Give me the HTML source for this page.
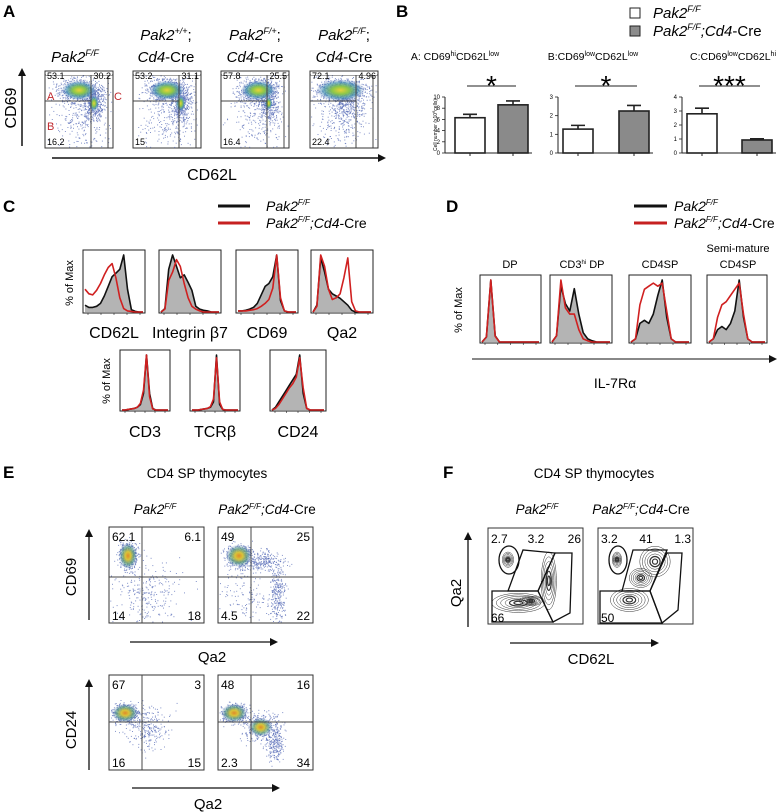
<!DOCTYPE html>
<html><head><meta charset="utf-8"><style>
html,body{margin:0;padding:0;background:#fff;}
svg{display:block;font-family:"Liberation Sans",sans-serif;}
.pl{font-weight:bold;font-size:17px;}
.it{font-style:italic;}
</style></head><body>
<svg id="fig" width="781" height="812" viewBox="0 0 781 812" xmlns="http://www.w3.org/2000/svg">
<defs>
<marker id="ah" markerWidth="8" markerHeight="8" refX="6" refY="4" orient="auto" markerUnits="userSpaceOnUse"><path d="M0,0 L8,4 L0,8 z" fill="#111"/></marker>
<radialGradient id="dens"><stop offset="0" stop-color="#e8d23a"/><stop offset="0.35" stop-color="#8cc64a"/><stop offset="0.7" stop-color="#3f8fb0" stop-opacity="0.7"/><stop offset="1" stop-color="#5a7ac0" stop-opacity="0"/></radialGradient>
<radialGradient id="densE"><stop offset="0" stop-color="#e08a2a"/><stop offset="0.3" stop-color="#d8c43a"/><stop offset="0.65" stop-color="#5aa080" stop-opacity="0.7"/><stop offset="1" stop-color="#5a7ac0" stop-opacity="0"/></radialGradient>
<clipPath id="fclip0"><rect x="488" y="528" width="95" height="96"/></clipPath>
<clipPath id="fclip1"><rect x="598" y="528" width="95" height="96"/></clipPath>
</defs>

<!-- Panel A -->
<g>
<text class="pl" x="3" y="17">A</text>
<text x="75" y="62" font-size="15" text-anchor="middle" class="it">Pak2<tspan font-size="9" dy="-6">F/F</tspan></text>
<text x="166" y="40" font-size="15" text-anchor="middle"><tspan class="it">Pak2</tspan><tspan font-size="9" dy="-6" class="it">+/+</tspan><tspan dy="6">;</tspan></text>
<text x="166" y="62" font-size="15" text-anchor="middle"><tspan class="it">Cd4</tspan>-Cre</text>
<text x="255" y="40" font-size="15" text-anchor="middle"><tspan class="it">Pak2</tspan><tspan font-size="9" dy="-6" class="it">F/+</tspan><tspan dy="6">;</tspan></text>
<text x="255" y="62" font-size="15" text-anchor="middle"><tspan class="it">Cd4</tspan>-Cre</text>
<text x="344" y="40" font-size="15" text-anchor="middle"><tspan class="it">Pak2</tspan><tspan font-size="9" dy="-6" class="it">F/F</tspan><tspan dy="6">;</tspan></text>
<text x="344" y="62" font-size="15" text-anchor="middle"><tspan class="it">Cd4</tspan>-Cre</text>
<line x1="22" y1="146" x2="22" y2="70" stroke="#111" stroke-width="1.5" marker-end="url(#ah)"/>
<text transform="translate(16,108) rotate(-90)" font-size="16" text-anchor="middle">CD69</text>
<line x1="52" y1="158" x2="384" y2="158" stroke="#111" stroke-width="1.5" marker-end="url(#ah)"/>
<text x="212" y="180" font-size="16" text-anchor="middle">CD62L</text>
<g id="aPlots"></g>
<text x="47" y="100" font-size="11" fill="#c0282d">A</text>
<text x="47" y="130" font-size="11" fill="#c0282d">B</text>
<text x="114" y="100" font-size="11" fill="#c0282d">C</text>
</g>

<!-- Panel B -->
<g>
<text class="pl" x="396" y="17">B</text>
<rect x="630" y="8" width="10" height="10" fill="#fff" stroke="#222"/>
<text x="653" y="18" font-size="15" class="it">Pak2<tspan font-size="9" dy="-6">F/F</tspan></text>
<rect x="630" y="26" width="10" height="10" fill="#8c8c8c" stroke="#222"/>
<text x="653" y="36" font-size="15"><tspan class="it">Pak2</tspan><tspan font-size="9" dy="-6" class="it">F/F</tspan><tspan dy="6" class="it">;Cd4</tspan>-Cre</text>
<text x="455" y="60" font-size="10.5" text-anchor="middle">A: CD69<tspan font-size="7" dy="-4">hi</tspan><tspan dy="4">CD62L</tspan><tspan font-size="7" dy="-4">low</tspan></text>
<text x="593" y="60" font-size="10.5" text-anchor="middle">B:CD69<tspan font-size="7" dy="-4">low</tspan><tspan dy="4">CD62L</tspan><tspan font-size="7" dy="-4">low</tspan></text>
<text x="733" y="60" font-size="10.5" text-anchor="middle">C:CD69<tspan font-size="7" dy="-4">low</tspan><tspan dy="4">CD62L</tspan><tspan font-size="7" dy="-4">hi</tspan></text>
<text transform="translate(437,125) rotate(-90)" font-size="5" text-anchor="middle">Cell number (x10<tspan font-size="4" dy="-2">6</tspan><tspan dy="2">cells)</tspan></text>
<g id="bCharts"></g>
</g>

<!-- Panel C -->
<g>
<text class="pl" x="3" y="212">C</text>
<line x1="218" y1="206" x2="250" y2="206" stroke="#111" stroke-width="3"/>
<text x="266" y="211" font-size="14" class="it">Pak2<tspan font-size="8" dy="-6">F/F</tspan></text>
<line x1="218" y1="223" x2="250" y2="223" stroke="#c62020" stroke-width="3"/>
<text x="266" y="228" font-size="14"><tspan class="it">Pak2</tspan><tspan font-size="8" dy="-6" class="it">F/F</tspan><tspan dy="6" class="it">;Cd4</tspan>-Cre</text>
<text transform="translate(73,283) rotate(-90)" font-size="11" text-anchor="middle">% of Max</text>
<text transform="translate(110,381) rotate(-90)" font-size="11" text-anchor="middle">% of Max</text>
<g id="cHists"></g>
</g>

<!-- Panel D -->
<g>
<text class="pl" x="446" y="212">D</text>
<line x1="634" y1="206" x2="667" y2="206" stroke="#111" stroke-width="3"/>
<text x="674" y="211" font-size="14" class="it">Pak2<tspan font-size="8" dy="-6">F/F</tspan></text>
<line x1="634" y1="223" x2="667" y2="223" stroke="#c62020" stroke-width="3"/>
<text x="674" y="228" font-size="14"><tspan class="it">Pak2</tspan><tspan font-size="8" dy="-6" class="it">F/F</tspan><tspan dy="6" class="it">;Cd4</tspan>-Cre</text>
<text x="510" y="268" font-size="11" text-anchor="middle">DP</text>
<text x="582" y="268" font-size="11" text-anchor="middle">CD3<tspan font-size="6" dy="-4">hi</tspan><tspan dy="4"> DP</tspan></text>
<text x="660" y="268" font-size="11" text-anchor="middle">CD4SP</text>
<text x="738" y="252" font-size="11" text-anchor="middle">Semi-mature</text>
<text x="738" y="268" font-size="11" text-anchor="middle">CD4SP</text>
<text transform="translate(462,310) rotate(-90)" font-size="11" text-anchor="middle">% of Max</text>
<line x1="472" y1="359" x2="775" y2="359" stroke="#111" stroke-width="1" marker-end="url(#ah)"/>
<text x="615" y="388" font-size="14" text-anchor="middle">IL-7Rα</text>
<g id="dHists"></g>
</g>

<!-- Panel E -->
<g>
<text class="pl" x="3" y="478">E</text>
<text x="207" y="478" font-size="13.5" text-anchor="middle">CD4 SP thymocytes</text>
<text x="155" y="514" font-size="13.5" text-anchor="middle" class="it">Pak2<tspan font-size="8" dy="-5">F/F</tspan></text>
<text x="267" y="514" font-size="13.5" text-anchor="middle"><tspan class="it">Pak2</tspan><tspan font-size="8" dy="-5" class="it">F/F</tspan><tspan dy="5" class="it">;Cd4</tspan>-Cre</text>
<line x1="89" y1="620" x2="89" y2="531" stroke="#111" stroke-width="1.3" marker-end="url(#ah)"/>
<text transform="translate(76,577) rotate(-90)" font-size="15" text-anchor="middle">CD69</text>
<line x1="130" y1="642" x2="276" y2="642" stroke="#111" stroke-width="1.3" marker-end="url(#ah)"/>
<text x="212" y="662" font-size="15" text-anchor="middle">Qa2</text>
<line x1="89" y1="770" x2="89" y2="681" stroke="#111" stroke-width="1.3" marker-end="url(#ah)"/>
<text transform="translate(76,730) rotate(-90)" font-size="15" text-anchor="middle">CD24</text>
<line x1="132" y1="788" x2="278" y2="788" stroke="#111" stroke-width="1.3" marker-end="url(#ah)"/>
<text x="208" y="809" font-size="15" text-anchor="middle">Qa2</text>
<g id="ePlots"></g>
</g>

<!-- Panel F -->
<g>
<text class="pl" x="443" y="478">F</text>
<text x="594" y="478" font-size="13.5" text-anchor="middle">CD4 SP thymocytes</text>
<text x="537" y="514" font-size="13.5" text-anchor="middle" class="it">Pak2<tspan font-size="8" dy="-5">F/F</tspan></text>
<text x="641" y="514" font-size="13.5" text-anchor="middle"><tspan class="it">Pak2</tspan><tspan font-size="8" dy="-5" class="it">F/F</tspan><tspan dy="5" class="it">;Cd4</tspan>-Cre</text>
<line x1="468" y1="627" x2="468" y2="534" stroke="#111" stroke-width="1.3" marker-end="url(#ah)"/>
<text transform="translate(461,593) rotate(-90)" font-size="15" text-anchor="middle">Qa2</text>
<line x1="510" y1="643" x2="657" y2="643" stroke="#111" stroke-width="1.3" marker-end="url(#ah)"/>
<text x="591" y="664" font-size="15" text-anchor="middle">CD62L</text>
<g id="fPlots"></g>
</g>
</svg>
<script>
// ---------- Panel B data ----------
const bGroups = ['Pak2F/F', 'Pak2F/F;Cd4-Cre'];
const bMeansA = [6.3, 8.6];
const bErrA = [0.6, 0.7];
const bMeansB = [1.28, 2.25];
const bErrB = [0.2, 0.3];
const bMeansC = [2.8, 0.93];
const bErrC = [0.4, 0.08];
const bTicksA = [0, 2, 4, 6, 8, 10];
const bTicksB = [0, 1, 2, 3];
const bTicksC = [0, 1, 2, 3, 4];
const bStars = ['*', '*', '***'];

// ---------- Panel C / D histogram data (% of max per bin) ----------
const cLabels = ['CD62L', 'Integrin β7', 'CD69', 'Qa2', 'CD3', 'TCRβ', 'CD24'];
const hCD62Lctl = [12, 8, 8, 10, 15, 28, 45, 62, 68, 75, 100, 40, 4, 1, 0, 0];
const hCD62Lko = [40, 32, 30, 38, 50, 65, 78, 85, 60, 25, 6, 2, 1, 0, 0, 0];
const hITGctl = [0, 6, 75, 100, 80, 60, 65, 52, 38, 10, 5, 3, 2, 0, 0, 0];
const hITGko = [0, 5, 55, 70, 92, 80, 50, 25, 10, 5, 2, 0, 0, 0, 0, 0];
const hCD69ctl = [2, 2, 3, 5, 8, 15, 30, 45, 50, 62, 100, 20, 2, 0, 0, 0];
const hCD69ko = [2, 2, 2, 3, 4, 6, 10, 15, 22, 42, 100, 25, 2, 0, 0, 0];
const hQa2ctl = [0, 12, 95, 70, 40, 32, 28, 24, 18, 12, 3, 0, 0, 0, 0, 0];
const hQa2ko = [0, 10, 100, 80, 40, 22, 25, 32, 60, 95, 18, 2, 0, 0, 0, 0];
const hCD3ctl = [0, 0, 1, 2, 3, 5, 10, 30, 100, 30, 3, 0, 0, 0, 0, 0];
const hCD3ko = [0, 0, 1, 2, 3, 5, 12, 36, 100, 24, 2, 0, 0, 0, 0, 0];
const hTCRctl = [0, 0, 0, 1, 2, 3, 5, 15, 100, 10, 1, 0, 0, 0, 0, 0];
const hTCRko = [0, 0, 0, 1, 2, 3, 6, 20, 95, 15, 1, 0, 0, 0, 0, 0];
const hCD24ctl = [0, 5, 15, 25, 35, 45, 55, 65, 100, 30, 3, 0, 0, 0, 0, 0];
const hCD24ko = [0, 3, 10, 20, 30, 40, 48, 60, 95, 40, 3, 0, 0, 0, 0, 0];
const dLabels = ['DP', 'CD3hi DP', 'CD4SP', 'Semi-mature CD4SP'];
const hDPctl = [0, 8, 100, 10, 0, 0, 0, 0, 0, 0, 0, 0, 0, 0];
const hDPko = [0, 8, 100, 9, 0, 0, 0, 0, 0, 0, 0, 0, 0, 0];
const hCD3hiCtl = [0, 10, 90, 62, 50, 86, 45, 15, 5, 2, 0, 0, 0, 0];
const hCD3hiKo = [0, 10, 100, 55, 45, 45, 20, 5, 2, 0, 0, 0, 0, 0];
const hSPctl = [0, 5, 30, 35, 30, 45, 75, 100, 40, 5, 0, 0, 0, 0];
const hSPko = [0, 5, 60, 85, 90, 95, 90, 95, 50, 5, 0, 0, 0, 0];
const hSemiCtl = [0, 5, 20, 25, 20, 30, 50, 100, 40, 5, 0, 0, 0, 0];
const hSemiKo = [0, 5, 40, 60, 65, 75, 85, 95, 45, 5, 0, 0, 0, 0];

// ---------- Quadrant percentages ----------
const aQuadTL = ['53.1', '53.2', '57.8', '72.1'];
const aQuadTR = ['30.2', '31.1', '25.5', '4.96'];
const aQuadBL = ['16.2', '15', '16.4', '22.4'];
const eTopQuads = [['62.1', '6.1', '14', '18'], ['49', '25', '4.5', '22']];
const eBotQuads = [['67', '3', '16', '15'], ['48', '16', '2.3', '34']];
const fGates = [['2.7', '3.2', '26', '66'], ['3.2', '41', '1.3', '50']];

const NS = 'http://www.w3.org/2000/svg';
function mk(tag, attrs, parent) {
  const e = document.createElementNS(NS, tag);
  for (const k in attrs) e.setAttribute(k, attrs[k]);
  parent.appendChild(e);
  return e;
}
let seed = 7;
function rnd() { seed = (seed * 16807) % 2147483647; return seed / 2147483647; }
function gauss() { return (rnd() + rnd() + rnd() + rnd() - 2) * 1.7; }

// ---------- Panel B ----------
const bG = document.getElementById('bCharts');
function barChart(axX, means, errs, ticks, star, barXs) {
  const top = 97, bottom = 153, maxV = ticks[ticks.length - 1];
  const y = v => bottom - (v / maxV) * (bottom - top);
  const ax = mk('line', {x1: axX, y1: top, x2: axX, y2: bottom, stroke: '#222', 'stroke-width': 1}, bG);
  
  
  const bx = mk('line', {x1: axX, y1: bottom, x2: barXs[1] + 34, y2: bottom, stroke: '#222', 'stroke-width': 1}, bG);
  
  
  ticks.forEach(t => {
    const tk = mk('line', {x1: axX - 3, y1: y(t), x2: axX, y2: y(t), stroke: '#222', 'stroke-width': 0.8}, bG);
    
    
    const tl = mk('text', {x: axX - 5, y: y(t) + 2, 'font-size': 6, 'text-anchor': 'end'}, bG);
    tl.textContent = t;
    
    
  });
  means.forEach((m, i) => {
    const w = 30;
    const r = mk('rect', {x: barXs[i], y: y(m), width: w, height: bottom - y(m), fill: i ? '#8a8a8a' : '#fff', stroke: '#222', 'stroke-width': 1.6}, bG);
    
    
    const cx = barXs[i] + w / 2;
    const el = mk('path', {d: `M${cx},${y(m)}V${y(m + errs[i])}M${cx - 7},${y(m + errs[i])}H${cx + 7}`, stroke: '#222', 'stroke-width': 1.6, fill: 'none'}, bG);
    
    
    const xt = mk('line', {x1: cx, y1: bottom, x2: cx, y2: bottom + 3, stroke: '#222'}, bG);
    
    
  });
  const c1 = barXs[0] + 15, c2 = barXs[1] + 15;
  const sl = mk('line', {x1: c1 - 3, y1: 86, x2: c2 + 3, y2: 86, stroke: '#222', 'stroke-width': 1}, bG);
  
  
  const st = mk('text', {x: (c1 + c2) / 2, y: 95, 'font-size': 28, 'text-anchor': 'middle'}, bG);
  st.textContent = star;
  
  
}
barChart(445, bMeansA, bErrA, bTicksA, bStars[0], [455, 498]);
barChart(558, bMeansB, bErrB, bTicksB, bStars[1], [563, 619]);
barChart(682, bMeansC, bErrC, bTicksC, bStars[2], [687, 742]);

// ---------- Histograms ----------
function hist(parent, x, y, w, h, ctl, ko, label, labelY, fs) {
  const fr = mk('rect', {x: x, y: y, width: w, height: h, fill: '#fff', stroke: '#222', 'stroke-width': 1}, parent);
  
  
  const xs = i => x + 2 + i * (w - 4) / (ctl.length - 1);
  const ys = v => y + h - 1 - v / 100 * (h - 6);
  let d = '';
  ctl.forEach((v, i) => { d += (i ? 'L' : 'M') + xs(i).toFixed(1) + ',' + ys(v).toFixed(1); });
  const fill = mk('path', {d: d + `L${xs(ctl.length - 1)},${y + h - 1}L${xs(0)},${y + h - 1}Z`, fill: '#b4b4b4', stroke: 'none'}, parent);
  
  
  const ln = mk('path', {d: d, fill: 'none', stroke: '#111', 'stroke-width': 1.6, 'stroke-linejoin': 'round'}, parent);
  
  
  let d2 = '';
  ko.forEach((v, i) => { d2 += (i ? 'L' : 'M') + xs(i).toFixed(1) + ',' + ys(v).toFixed(1); });
  const rl = mk('path', {d: d2, fill: 'none', stroke: '#d02020', 'stroke-width': 1.6, 'stroke-linejoin': 'round'}, parent);
  
  
  for (let k = 0; k < 5; k++) {
    const t = mk('line', {x1: x + 5 + k * (w - 10) / 4, y1: y + h, x2: x + 5 + k * (w - 10) / 4, y2: y + h + 2, stroke: '#222', 'stroke-width': 0.6}, parent);
    
    
  }
  if (label) {
    const tx = mk('text', {x: x + w / 2, y: labelY, 'font-size': fs, 'text-anchor': 'middle'}, parent);
    tx.textContent = label;
    
    
  }
}
const cG = document.getElementById('cHists');
hist(cG, 83, 250, 62, 63, hCD62Lctl, hCD62Lko, cLabels[0], 338, 16);
hist(cG, 159, 250, 62, 63, hITGctl, hITGko, cLabels[1], 338, 16);
hist(cG, 236, 250, 62, 63, hCD69ctl, hCD69ko, cLabels[2], 338, 16);
hist(cG, 311, 250, 62, 63, hQa2ctl, hQa2ko, cLabels[3], 338, 16);
hist(cG, 120, 350, 50, 61, hCD3ctl, hCD3ko, cLabels[4], 437, 16);
hist(cG, 190, 350, 50, 61, hTCRctl, hTCRko, cLabels[5], 437, 16);
hist(cG, 270, 350, 56, 61, hCD24ctl, hCD24ko, cLabels[6], 437, 16);
const dG = document.getElementById('dHists');
hist(dG, 480, 275, 61, 68, hDPctl, hDPko, null);
hist(dG, 550, 275, 62, 68, hCD3hiCtl, hCD3hiKo, null);
hist(dG, 629, 275, 62, 68, hSPctl, hSPko, null);
hist(dG, 707, 275, 60, 68, hSemiCtl, hSemiKo, null);

// ---------- Dot plots ----------
function dotPlot(parent, x, y, w, h, blobs, grad, nDots) {
  const fr = mk('rect', {x: x, y: y, width: w, height: h, fill: '#fff', stroke: '#333', 'stroke-width': 1}, parent);
  
  
  blobs.forEach(b => {
    for (let i = 0; i < nDots * b[4]; i++) {
      const px = x + w * (b[0] + gauss() * b[2]);
      const py = y + h * (b[1] + gauss() * b[3]);
      if (px < x + 1 || px > x + w - 1 || py < y + 1 || py > y + h - 1) continue;
      const c = mk('rect', {x: px.toFixed(1), y: py.toFixed(1), width: 1, height: 1, fill: '#5b6fb8', opacity: 0.75}, parent);
      
      
    }
  });
  blobs.forEach(b => {
    if (!b[5]) return;
    const e = mk('ellipse', {cx: x + w * b[0], cy: y + h * b[1], rx: w * b[2] * b[5] * 1.8, ry: h * b[3] * b[5] * 1.8, fill: 'url(#' + grad + ')'}, parent);
    
    
  });
}
function label(parent, x, y, txt, fs, anchor) {
  const t = mk('text', {x: x, y: y, 'font-size': fs, 'text-anchor': anchor || 'start'}, parent);
  t.textContent = txt;
  
  
}
function qline(parent, x1, y1, x2, y2) {
  const l = mk('line', {x1: x1, y1: y1, x2: x2, y2: y2, stroke: '#444', 'stroke-width': 1}, parent);
  
  
}

// Panel A
const aG = document.getElementById('aPlots');
const aXs = [45, 133, 221, 310];
const aBlobs = [
  [[0.5, 0.25, 0.16, 0.08, 1, 0.9], [0.72, 0.42, 0.08, 0.12, 0.7, 0.5], [0.55, 0.6, 0.22, 0.25, 0.6, 0]],
  [[0.5, 0.25, 0.16, 0.08, 1, 0.9], [0.7, 0.42, 0.08, 0.12, 0.7, 0.5], [0.55, 0.6, 0.22, 0.25, 0.6, 0]],
  [[0.55, 0.25, 0.16, 0.08, 1, 0.9], [0.7, 0.42, 0.08, 0.12, 0.6, 0.4], [0.55, 0.6, 0.22, 0.25, 0.5, 0]],
  [[0.45, 0.25, 0.2, 0.08, 1.3, 1], [0.55, 0.45, 0.12, 0.12, 0.5, 0], [0.45, 0.65, 0.22, 0.22, 0.5, 0]]
];
aXs.forEach((x0, i) => {
  dotPlot(aG, x0, 71, 68, 77, aBlobs[i], 'dens', 500);
  qline(aG, x0, 101, x0 + 46, 101);
  qline(aG, x0 + 46, 75, x0 + 46, 148);
  qline(aG, x0 + 63, 75, x0 + 63, 148);
  qline(aG, x0, 75, x0 + 68, 75);
  const r = mk('rect', {x: x0 + 1, y: 72, width: 66, height: 3, fill: '#fff'}, aG);
  
  
  label(aG, x0 + 2, 79, aQuadTL[i], 9);
  label(aG, x0 + 66, 79, aQuadTR[i], 9, 'end');
  label(aG, x0 + 2, 145, aQuadBL[i], 9);
});

// Panel E
const eG = document.getElementById('ePlots');
const eXs = [109, 218];
const eTopBlobs = [
  [[0.2, 0.3, 0.05, 0.07, 1, 1.1], [0.4, 0.7, 0.2, 0.18, 0.6, 0]],
  [[0.22, 0.3, 0.07, 0.06, 1, 1.1], [0.45, 0.35, 0.12, 0.05, 0.6, 0], [0.62, 0.7, 0.04, 0.15, 0.6, 0], [0.3, 0.7, 0.15, 0.15, 0.3, 0]]
];
const eBotBlobs = [
  [[0.17, 0.4, 0.07, 0.05, 1, 1.1], [0.38, 0.55, 0.12, 0.12, 0.6, 0]],
  [[0.17, 0.4, 0.07, 0.05, 1, 1.1], [0.45, 0.55, 0.1, 0.08, 0.8, 0.7], [0.6, 0.72, 0.05, 0.1, 0.5, 0]]
];
eXs.forEach((x0, i) => {
  dotPlot(eG, x0, 527, 95, 96, eTopBlobs[i], 'densE', 450);
  qline(eG, x0, 577, x0 + 95, 577);
  qline(eG, x0 + 33, 527, x0 + 33, 623);
  label(eG, x0 + 3, 541, eTopQuads[i][0], 12);
  label(eG, x0 + 92, 541, eTopQuads[i][1], 12, 'end');
  label(eG, x0 + 3, 620, eTopQuads[i][2], 12);
  label(eG, x0 + 92, 620, eTopQuads[i][3], 12, 'end');
  dotPlot(eG, x0, 675, 95, 95, eBotBlobs[i], 'densE', 450);
  qline(eG, x0, 722, x0 + 95, 722);
  qline(eG, x0 + 33, 675, x0 + 33, 770);
  label(eG, x0 + 3, 689, eBotQuads[i][0], 12);
  label(eG, x0 + 92, 689, eBotQuads[i][1], 12, 'end');
  label(eG, x0 + 3, 767, eBotQuads[i][2], 12);
  label(eG, x0 + 92, 767, eBotQuads[i][3], 12, 'end');
});

// Panel F (contour plots)
const fG = document.getElementById('fPlots');
const fXs = [488, 598];
const fContours = [
  [[0.32, 0.78, 0.28, 0.1], [0.64, 0.55, 0.08, 0.3], [0.45, 0.76, 0.12, 0.05], [0.21, 0.33, 0.06, 0.08]],
  [[0.33, 0.75, 0.2, 0.12], [0.6, 0.35, 0.16, 0.16], [0.45, 0.52, 0.12, 0.1], [0.2, 0.33, 0.05, 0.08]]
];
const fPolys = [
  ['20,63 35,22 67,25 50,63', '67,25 84,25 82,85 65,94 50,63', '4,63 50,63 65,94 4,94'],
  ['24,63 35,22 69,22 52,63', '69,25 84,25 80,82 64,95 52,63', '2,63 52,63 64,95 2,95']
];
const fEll = [[21, 32, 10, 14], [20, 32, 9, 14]];
fXs.forEach((x0, i) => {
  const fr = mk('rect', {x: x0, y: 528, width: 95, height: 96, fill: '#fff', stroke: '#333'}, fG);
  
  
  const cg = mk('g', {'clip-path': 'url(#fclip' + i + ')'}, fG);
  
  
  fContours[i].forEach(c => {
    for (let k = 1; k <= 6; k++) {
      const e = mk('ellipse', {cx: x0 + 95 * c[0], cy: 528 + 96 * c[1], rx: 95 * c[2] * k / 6, ry: 96 * c[3] * k / 6, fill: 'none', stroke: '#333', 'stroke-width': k < 3 ? 1.2 : 0.5}, cg);
      
      
    }
  });
  fPolys[i].forEach(p => {
    const pts = p.split(' ').map(s => { const a = s.split(','); return (x0 + +a[0]) + ',' + (528 + +a[1]); }).join(' ');
    const pg = mk('polygon', {points: pts, fill: 'none', stroke: '#111', 'stroke-width': 1.3}, fG);
    
    
  });
  const ge = mk('ellipse', {cx: x0 + fEll[i][0], cy: 528 + fEll[i][1], rx: fEll[i][2], ry: fEll[i][3], fill: 'none', stroke: '#111', 'stroke-width': 1.3}, fG);
  
  
  label(fG, x0 + 3, 543, fGates[i][0], 12);
  label(fG, x0 + 48, 543, fGates[i][1], 12, 'middle');
  label(fG, x0 + 93, 543, fGates[i][2], 12, 'end');
  label(fG, x0 + 3, 622, fGates[i][3], 12);
});
</script>
</body></html>
